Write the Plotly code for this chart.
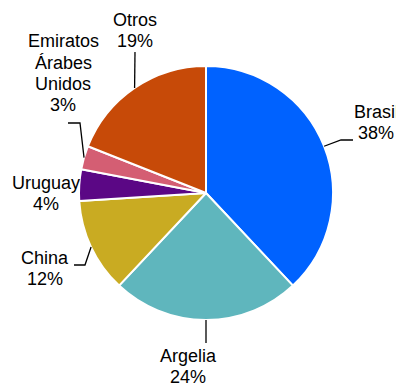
import math
import plotly.graph_objects as go

# Slice data (clockwise from 12 o'clock)
labels = ["Brasil", "Argelia", "China", "Uruguay", "Emiratos Árabes Unidos", "Otros"]
values = [38, 24, 12, 4, 3, 19]
colors = ["#0062ff", "#5fb6bd", "#c9ab22", "#5b0785", "#d45e73", "#c74a08"]

# How each label is wrapped onto lines
label_lines = [["Brasil"], ["Argelia"], ["China"], ["Uruguay"],
               ["Emiratos", "Árabes", "Unidos"], ["Otros"]]

W, H = 396, 386
cx, cy, r = 206, 193, 127          # pie centre and radius in px
FONT = "Liberation Sans, Arial, sans-serif"
FS = 18
LINE_H = 21

# Label block centres (px) and leader-line bends/ends (px); None = no leader
label_pos = [(376, 122), (188, 366), (45, 268), (46, 193), (63, 73), (135, 31)]
leader_via = [[(341, 140), (353, 140)],
              [(206, 343)],
              [(85, 265), (74, 265)],
              None,
              [(80, 123), (68, 123)],
              [(135, 52)]]


def px(x, y):
    return x / W, 1 - y / H


fig = go.Figure(go.Pie(
    labels=labels,
    values=values,
    sort=False,
    direction="clockwise",
    rotation=0,
    marker=dict(colors=colors, line=dict(color="white", width=2)),
    textinfo="none",
    showlegend=False,
    hoverinfo="label+percent",
    domain=dict(x=[(cx - r) / W, (cx + r) / W], y=[(H - cy - r) / H, (H - cy + r) / H]),
))

total = sum(values)
cum = 0
annotations, shapes = [], []
for i, v in enumerate(values):
    mid = (cum + v / 2) / total * 2 * math.pi
    cum += v
    ex, ey = cx + r * math.sin(mid), cy - r * math.cos(mid)

    via = leader_via[i]
    if via:
        pts = [(ex, ey)] + via
        path = "M " + " L ".join("%.4f,%.4f" % px(x, y) for x, y in pts)
        shapes.append(dict(type="path", path=path, xref="paper", yref="paper",
                           line=dict(color="black", width=1.3)))

    pct = "%d%%" % round(v / total * 100)
    lines = label_lines[i] + [pct]
    lx, ly = label_pos[i]
    top = ly - (len(lines) - 1) * LINE_H / 2
    for k, t in enumerate(lines):
        x, y = px(lx, top + k * LINE_H)
        annotations.append(dict(text=t, x=x, y=y, xref="paper", yref="paper",
                                xanchor="center", yanchor="middle", showarrow=False,
                                font=dict(family=FONT, size=FS, color="black")))

fig.update_layout(
    width=W, height=H,
    margin=dict(l=0, r=0, t=0, b=0),
    paper_bgcolor="white",
    annotations=annotations,
    shapes=shapes,
)

fig.write_html("out.html")
